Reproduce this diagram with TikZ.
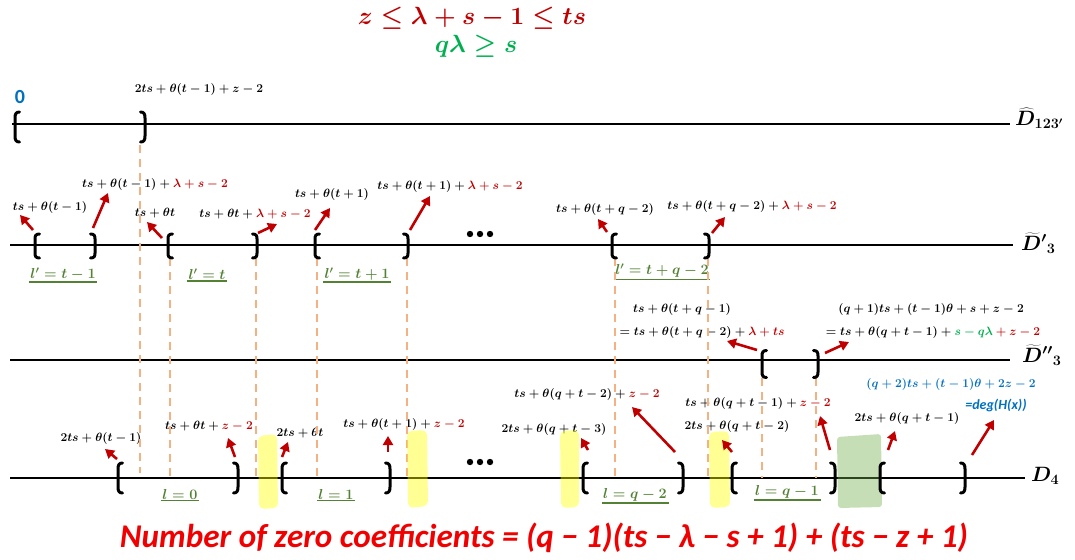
\documentclass[tikz,border=0pt]{standalone}
\usepackage{fontspec}
\usepackage{graphicx}
\newfontfamily\carlito{Carlito}
\usetikzlibrary{arrows.meta}
\definecolor{dred}{RGB}{192,0,0}
\definecolor{ared}{RGB}{192,0,0}
\definecolor{lgreen}{RGB}{84,130,53}
\definecolor{tgreen}{RGB}{0,176,80}
\definecolor{mblue}{RGB}{0,112,192}
\definecolor{dorange}{RGB}{244,177,131}
\definecolor{hyellow}{RGB}{255,255,0}
\definecolor{hgreen}{RGB}{112,173,71}
\definecolor{bred}{RGB}{240,0,0}
\tikzset{
  axis/.style={line width=2.2pt, black},
  guide/.style={draw=dorange, line width=2pt, dash pattern=on 8pt off 6pt},
  ptr/.style={draw=ared, line width=2.6pt, -{Triangle[length=9pt,width=10pt]}},
  lab/.style={font=\fontsize{12.5}{14}\selectfont\boldmath, inner sep=0pt},
  dlab/.style={font=\fontsize{20}{24}\selectfont\boldmath, inner sep=0pt},
  ulab/.style={font=\fontsize{14}{16}\selectfont\boldmath, text=lgreen, inner sep=1.5pt,
    append after command={(\tikzlastnode.south west) edge[draw=lgreen, line width=1.3pt] (\tikzlastnode.south east)}},
  brk/.style={line width=3pt, line cap=round},
  hlY/.style={fill=hyellow, fill opacity=0.42, rounded corners=5pt},
  hlG/.style={fill=hgreen, fill opacity=0.40, rounded corners=3pt},
  lbr/.pic={\draw[brk] (4.5,-15) .. controls (1,-15) and (0,-13) .. (0,-9) -- (0,9) .. controls (0,13) and (1,15) .. (4.5,15);},
  rbr/.pic={\draw[brk] (-4.5,-15) .. controls (-1,-15) and (0,-13) .. (0,-9) -- (0,9) .. controls (0,13) and (-1,15) .. (-4.5,15);},
}
\newcommand\arr[5]{\coordinate (#1s) at (#2,#3); \coordinate (#1e) at (#4,#5); \draw[ptr] (#1s) -- (#1e);}
\newcommand\guide[4]{\coordinate (#1t) at (#2,#3); \coordinate (#1b) at (#2,#4); \draw[guide] (#1t) -- (#1b);}
\begin{document}
\begin{tikzpicture}[x=1pt,y=-1pt]
\useasboundingbox (0,0) rectangle (1075,559);

% main lines
\coordinate (hL) at (12,124); \coordinate (hR) at (1010,124);
\coordinate (pL) at (10,245); \coordinate (pR) at (1013,245);
\coordinate (qL) at (10,360); \coordinate (qR) at (1010,360);
\coordinate (fL) at (10,478); \coordinate (fR) at (1025,478);
\draw[axis] (hL) -- (hR);
\draw[axis] (pL) -- (pR);
\draw[axis] (qL) -- (qR);
\draw[axis] (fL) -- (fR);

% top conditions
\node[inner sep=0pt, text=dred, font=\fontsize{23}{27}\selectfont\boldmath] (c1) at (472,18) {$z\leq\lambda+s-1\leq ts$};
\node[inner sep=0pt, text=tgreen, font=\fontsize{23}{27}\selectfont\boldmath] (c2) at (476,46) {$q\lambda\geq s$};

% line labels
\node[dlab, anchor=west] (Dh) at (1015,118) {$\widehat{D}_{123'}$};
\node[dlab, anchor=west] (Dp) at (1021,243) {$\widetilde{D}'{}_3$};
\node[dlab, anchor=west] (Dpp) at (1022,355) {$\widetilde{D}''{}_3$};
\node[dlab, anchor=west] (Df) at (1031,476) {$D_4$};

% D123 row
\node[inner sep=0pt, text=mblue, font=\fontsize{20}{22}\selectfont\carlito\bfseries] (zero) at (20,97) {0};
\node[lab] (tA) at (199,90) {$2ts+\theta(t-1)+z-2$};

% D'3 row labels
\node[lab] (l1) at (50,207) {$ts+\theta(t-1)$};
\node[lab] (l2) at (155,184) {$ts+\theta(t-1)+\color{dred}\lambda+s-2$};
\node[lab] (l3) at (155,213) {$ts+\theta t$};
\node[lab] (l4) at (255,214) {$ts+\theta t+\color{dred}\lambda+s-2$};
\node[lab] (l5) at (332,194) {$ts+\theta(t+1)$};
\node[lab] (l6) at (450,186) {$ts+\theta(t+1)+\color{dred}\lambda+s-2$};
\node[lab] (l7) at (605,209) {$ts+\theta(t+q-2)$};
\node[lab] (l8) at (752,206) {$ts+\theta(t+q-2)+\color{dred}\lambda+s-2$};

\node[ulab] (u1) at (63,274) {$l'=t-1$};
\node[ulab] (u2) at (207,274) {$l'=t$};
\node[ulab] (u3) at (357,274) {$l'=t+1$};
\node[ulab] (u4) at (662,271) {$l'=t+q-2$};

% D''3 row labels
\node[lab] (m1) at (682,309) {$ts+\theta(t+q-1)$};
\node[lab] (m2) at (702,332) {$=ts+\theta(t+q-2)+\color{dred}\lambda+ts$};
\node[lab] (m3) at (931,309) {$(q+1)ts+(t-1)\theta+s+z-2$};
\node[lab] (m4) at (933,332) {$=ts+\theta(q+t-1)+\color{tgreen}s-q\lambda\color{dred}+z-2$};

% D4 row labels
\node[lab] (n1) at (101,438) {$2ts+\theta(t-1)$};
\node[lab] (n2) at (209,426) {$ts+\theta t+\color{dred}z-2$};
\node[lab] (n3) at (300,433) {$2ts+\theta t$};
\node[lab] (n4) at (404,424) {$ts+\theta(t+1)+\color{dred}z-2$};
\node[lab] (n5) at (554,429) {$2ts+\theta(q+t-3)$};
\node[lab] (n6) at (587,394) {$ts+\theta(q+t-2)+\color{dred}z-2$};
\node[lab] (n7) at (758,403) {$ts+\theta(q+t-1)+\color{dred}z-2$};
\node[lab] (n8) at (737,426) {$2ts+\theta(q+t-2)$};
\node[lab] (n9) at (907,418) {$2ts+\theta(q+t-1)$};
\node[lab, text=mblue] (n10) at (951,384) {$(q+2)ts+(t-1)\theta+2z-2$};
\node[inner sep=0pt, text=mblue, font=\fontsize{14}{16}\selectfont\carlito\bfseries\itshape] (n11) at (996,405) {=deg(H(x))};

\node[ulab] (v1) at (180,494) {$l=0$};
\node[ulab] (v2) at (336,494) {$l=1$};
\node[ulab] (v3) at (635,495) {$l=q-2$};
\node[ulab] (v4) at (787,492) {$l=q-1$};

% dashed guides
\guide{g0}{140}{145}{473}
\guide{g1}{170}{258}{478}
\guide{g2}{256}{258}{478}
\guide{g3}{317}{258}{478}
\guide{g4}{407}{258}{478}
\guide{g5}{615}{258}{478}
\guide{g6}{708}{258}{478}
\guide{g7}{762}{378}{478}
\guide{g8}{816}{378}{478}

% highlights
\path[hlY] (258,436) -- (277,434) -- (278,508) -- (259,509) -- cycle;
\path[hlY] (407,431) -- (427,430) -- (428,506) -- (408,508) -- cycle;
\path[hlY] (560,431) -- (579,430) -- (579,507) -- (561,508) -- cycle;
\path[hlY] (709,432) -- (729,431) -- (730,507) -- (710,508) -- cycle;
\path[hlG] (837,437) -- (881,434) -- (882,507) -- (838,508) -- cycle;

% brackets
\pic at (15,127) {lbr}; \pic at (145,127) {rbr};
\pic[yscale=0.8] at (35,246) {lbr}; \pic[yscale=0.8] at (95,246) {rbr};
\pic[yscale=0.8] at (168,246) {lbr}; \pic[yscale=0.8] at (257,246) {rbr};
\pic[yscale=0.8] at (315,246) {lbr}; \pic[yscale=0.8] at (408,246) {rbr};
\pic[yscale=0.8] at (612,246) {lbr}; \pic[yscale=0.8] at (709,246) {rbr};
\pic[yscale=0.9] at (762,364) {lbr}; \pic[yscale=0.9] at (818,364) {rbr};
\pic at (118,478) {lbr}; \pic at (238,478) {rbr};
\pic at (282,478) {lbr}; \pic at (390,478) {rbr};
\pic at (583,478) {lbr}; \pic at (683,478) {rbr};
\pic at (732,478) {lbr}; \pic at (835,478) {rbr};
\pic at (880,478) {lbr}; \pic at (965,478) {rbr};

% ellipses
\foreach \xx in {470,480,490} {\fill (\xx,234) circle (3.2pt); \fill (\xx,462) circle (3.2pt);}

% arrows D'3
\arr{a1}{33}{230}{20}{215}
\arr{a2}{93}{228}{108}{193}
\arr{a3}{162}{238}{147}{222}
\arr{a4}{258}{233}{277}{224}
\arr{a5}{315}{230}{330}{208}
\arr{a6}{410}{230}{430}{196}
\arr{a7}{607}{232}{598}{219}
\arr{a8}{712}{233}{725}{217}
% arrows D''3
\arr{b1}{757}{350}{727}{341}
\arr{b2}{825}{353}{849}{342}
% arrows D4
\arr{c1a}{117}{459}{105}{449}
\arr{c2a}{235}{457}{228}{438}
\arr{c3a}{282}{457}{288}{442}
\arr{c4a}{388}{452}{388}{436}
\arr{c5a}{588}{450}{581}{438}
\arr{c6a}{675}{452}{632}{407}
\arr{c7a}{732}{452}{722}{440}
\arr{c8a}{830}{450}{820}{416}
\arr{c9a}{888}{450}{895}{431}
\arr{c10a}{972}{455}{994}{420}

% bottom formula
\node[inner sep=0pt, text=bred] (bot) at (544,538) {\resizebox{848pt}{!}{\carlito\bfseries\itshape Number of zero coefficients = (q − 1)(ts − λ − s + 1) + (ts − z + 1)}};
\end{tikzpicture}
\end{document}
